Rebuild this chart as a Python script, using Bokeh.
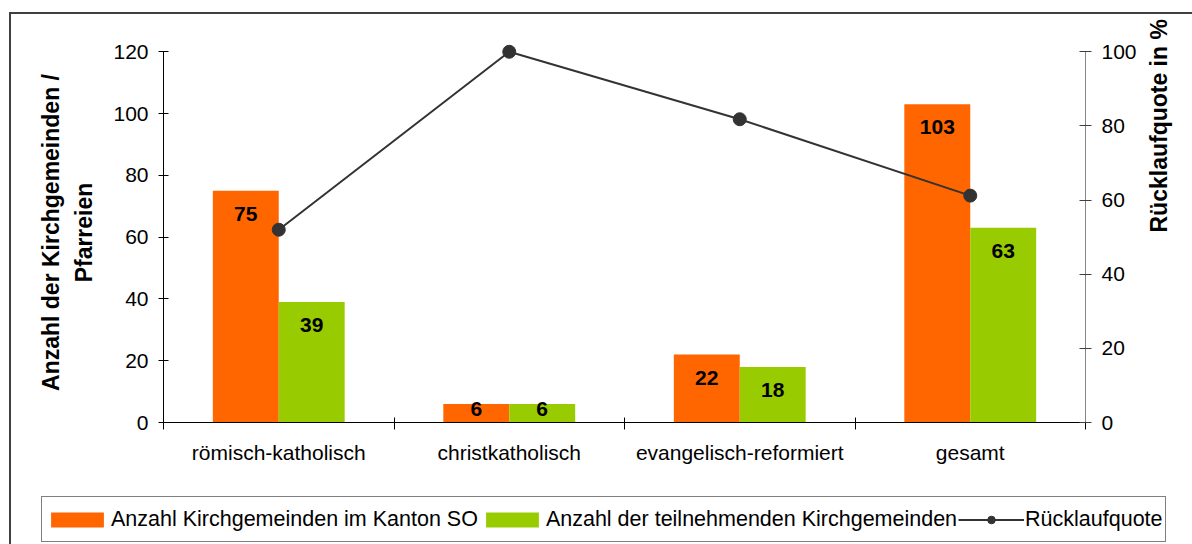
import math
from bokeh.plotting import figure
from bokeh.layouts import column
from bokeh.models import (Range1d, LinearAxis, FixedTicker,
                          ColumnDataSource, Legend, LegendItem)
from bokeh.embed import file_html
from bokeh.resources import INLINE
from bokeh.core.properties import value

# ---------------- data ----------------
categories = ["römisch-katholisch", "christkatholisch", "evangelisch-reformiert", "gesamt"]
anzahl_kanton = [75, 6, 22, 103]
anzahl_teilnehmend = [39, 6, 18, 63]
ruecklaufquote = [52.0, 100.0, 81.8, 61.2]
left_ticks = [0, 20, 40, 60, 80, 100, 120]
right_ticks = [0, 20, 40, 60, 80, 100]
series_names = ["Anzahl Kirchgemeinden im Kanton SO",
                "Anzahl der teilnehmenden Kirchgemeinden",
                "Rücklaufquote"]
left_title = "Anzahl der Kirchgemeinden /\nPfarreien"
right_title = "Rücklaufquote in %"

# ---------------- style ----------------
FONT = "Liberation Sans"
ORANGE = "#FF6600"
GREEN = "#99CC00"
LINE = "#333333"
FRAME = "#404040"
W = 1192
H_MAIN, H_LEG = 488, 56
OFF, BW = 0.143, 0.286
HEAD = 1.025  # small headroom so the top marker is not clipped

n = len(categories)
centers = [i + 0.5 for i in range(n)]
bounds = list(range(n + 1))


def label_y(v):
    return v - 7.5 if v > 10 else v * 0.75


src = ColumnDataSource(dict(
    xc=centers,
    xk=[c - OFF for c in centers],
    xt=[c + OFF for c in centers],
    kanton=anzahl_kanton,
    teil=anzahl_teilnehmend,
    quote=ruecklaufquote,
    lab_k=[str(v) for v in anzahl_kanton],
    lab_t=[str(v) for v in anzahl_teilnehmend],
    ky=[label_y(v) for v in anzahl_kanton],
    ty=[label_y(v) for v in anzahl_teilnehmend],
))

p = figure(width=W, height=H_MAIN, x_range=Range1d(0, n),
           y_range=Range1d(0, left_ticks[-1] * HEAD),
           output_backend="svg", toolbar_location=None,
           x_axis_location=None, y_axis_location=None,
           min_border_left=163, min_border_right=107, min_border_top=42, min_border_bottom=66)
p.title.visible = False
p.outline_line_color = None
p.background_fill_color = "white"
p.border_fill_alpha = 0
p.grid.grid_line_color = None

p.extra_y_ranges = {"pct": Range1d(0, right_ticks[-1] * HEAD)}

# left axis
yl = LinearAxis(ticker=FixedTicker(ticks=left_ticks), axis_label=left_title,
                bounds=(left_ticks[0], left_ticks[-1]))
yl.axis_line_color = "black"
yl.major_tick_line_color = "black"
yl.major_tick_in = 5
yl.major_tick_out = 5
yl.minor_tick_line_color = None
yl.major_label_text_font = FONT
yl.major_label_text_font_size = "21px"
yl.major_label_text_color = "black"
yl.major_label_standoff = 10
yl.axis_label_text_font = FONT
yl.axis_label_text_font_size = "23px"
yl.axis_label_text_font_style = "bold"
yl.axis_label_text_color = "black"
yl.axis_label_text_line_height = 1.3
yl.axis_label_standoff = 13
p.add_layout(yl, "left")

# right axis
yr = LinearAxis(y_range_name="pct", ticker=FixedTicker(ticks=right_ticks), axis_label=right_title,
                bounds=(right_ticks[0], right_ticks[-1]))
yr.axis_line_color = "#868686"
yr.major_tick_line_color = "#404040"
yr.major_tick_in = 6
yr.major_tick_out = 6
yr.minor_tick_line_color = None
yr.major_label_text_font = FONT
yr.major_label_text_font_size = "21px"
yr.major_label_text_color = "black"
yr.major_label_standoff = 10
yr.axis_label_text_font = FONT
yr.axis_label_text_font_size = "23px"
yr.axis_label_text_font_style = "bold"
yr.axis_label_text_color = "black"
yr.axis_label_standoff = 19
try:
    yr.axis_label_orientation = math.pi / 2
    yr.axis_label_text_align = "center"
except Exception:
    pass
p.add_layout(yr, "right")

# x axis: category labels at centres, separator ticks at group boundaries
xa = LinearAxis(ticker=FixedTicker(ticks=centers, minor_ticks=bounds),
                major_label_overrides={c: cat for c, cat in zip(centers, categories)})
xa.axis_line_color = "black"
xa.major_tick_line_color = None
xa.major_tick_in = 0
xa.major_tick_out = 0
xa.minor_tick_line_color = "black"
xa.minor_tick_in = 5
xa.minor_tick_out = 7
xa.major_label_text_font = FONT
xa.major_label_text_font_size = "21px"
xa.major_label_text_color = "black"
xa.major_label_standoff = 11
p.add_layout(xa, "below")

# bars
p.vbar(x="xk", top="kanton", width=BW, fill_color=ORANGE, line_color=None, source=src)
p.vbar(x="xt", top="teil", width=BW, fill_color=GREEN, line_color=None, source=src)

# data labels
for col in ("k", "t"):
    p.text(x="x" + col, y=col + "y", text="lab_" + col, source=src,
           text_font=value(FONT), text_font_style="bold", text_font_size="21px",
           text_align="center", text_baseline="middle", text_color="black")

# line
p.line(x="xc", y="quote", y_range_name="pct", line_color=LINE, line_width=2, source=src)
p.scatter(x="xc", y="quote", y_range_name="pct", size=13, marker="circle",
          fill_color=LINE, line_color=LINE, source=src)

# ---------------- legend strip ----------------
# same series drawn again (out of view) only to give the legend its swatches
q = figure(width=W, height=H_LEG, x_range=Range1d(-2, -1), y_range=Range1d(-2, -1),
           output_backend="svg", toolbar_location=None,
           x_axis_location=None, y_axis_location=None, min_border=0)
q.title.visible = False
q.outline_line_color = None
q.background_fill_alpha = 0
q.border_fill_alpha = 0
q.grid.grid_line_color = None
g1 = q.vbar(x="xk", top="kanton", width=BW, fill_color=ORANGE, line_color=None, source=src)
g2 = q.vbar(x="xt", top="teil", width=BW, fill_color=GREEN, line_color=None, source=src)
g3 = q.line(x="xc", y="quote", line_color=LINE, line_width=2, source=src)
g4 = q.scatter(x="xc", y="quote", size=11, marker="circle", fill_color=LINE, line_color=LINE,
               source=src)

for fig in (p, q):
    try:
        fig.frame_align = False
    except Exception:
        pass

legend = Legend(items=[LegendItem(label=series_names[0], renderers=[g1]),
                       LegendItem(label=series_names[1], renderers=[g2]),
                       LegendItem(label=series_names[2], renderers=[g3, g4])],
                orientation="horizontal", location=(41, 2))
legend.label_text_font = FONT
legend.label_text_font_size = "21.5px"
legend.label_text_color = "black"
legend.glyph_width = 66
legend.glyph_height = 19
legend.label_standoff = 1
legend.spacing = 1
legend.padding = 2
legend.margin = 0
legend.label_height = 40
legend.border_line_color = "black"
legend.border_line_width = 1
legend.background_fill_color = "white"
legend.background_fill_alpha = 1
q.add_layout(legend)

# outer chart frame (left and top edges visible, the rest lies outside the window)
page = column(p, q, spacing=0, styles={
    "background": (f"linear-gradient({FRAME},{FRAME}) 9px 12px / 2px 100% no-repeat, "
                   f"linear-gradient({FRAME},{FRAME}) 9px 12px / 100% 2px no-repeat, white")
})

open("out.html", "w").write(file_html(page, INLINE))
